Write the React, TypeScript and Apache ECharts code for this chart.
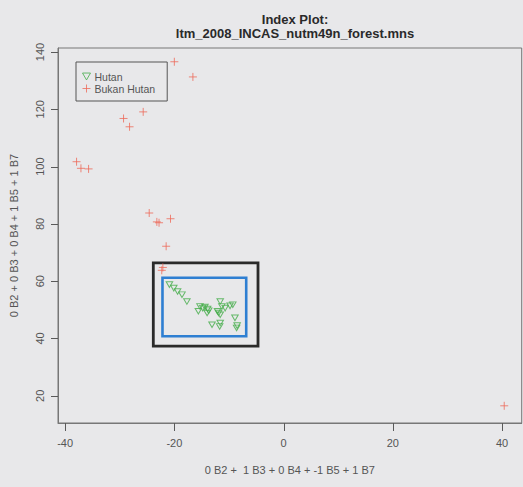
import React, { useEffect, useRef } from "react";
import * as echarts from "echarts";

// Hutan (forest) points
const hutanX = [-20.9, -20.1, -19.4, -18.6, -17.7, -15.3, -14.8, -14.4, -13.9, -15.6, -14.0, -13.7, -11.6, -11.3, -10.7, -9.8, -9.3, -12.1, -11.9, -11.6, -13.1, -11.7, -11.6, -8.9, -8.6, -8.5];
const hutanY = [58.8, 57.6, 56.4, 55.3, 52.9, 51.2, 50.6, 51.0, 50.3, 49.5, 48.9, 49.7, 52.9, 51.2, 50.6, 51.4, 51.8, 49.5, 48.9, 48.3, 44.8, 44.2, 45.4, 47.2, 43.7, 44.5];
// Bukan Hutan (non-forest) points
const bukanX = [-20.0, -16.6, -25.7, -29.3, -28.2, -37.9, -37.1, -35.7, -24.6, -23.2, -22.8, -20.7, -21.5, -22.3, -22.1, 40.4];
const bukanY = [136.6, 131.3, 119.1, 116.8, 113.9, 101.7, 99.4, 99.2, 83.8, 80.7, 80.4, 81.8, 72.2, 63.8, 64.8, 16.5];
const xTicks = [-40, -20, 0, 20, 40];
const yTicks = [20, 40, 60, 80, 100, 120, 140];
// axis ranges
const xRange = [-41.3, 43.6];
const yRange = [10.5, 141.4];
// annotation boxes in data coordinates [x1, y1, x2, y2]
const blackBox = [-23.85, 66.4, -4.68, 37.3];
const blueBox = [-22.17, 61.2, -6.84, 40.8];

const seriesNames = ["Hutan", "Bukan Hutan"];
const titleLines = ["Index Plot:", "ltm_2008_INCAS_nutm49n_forest.mns"];
const xName = "0 B2 +  1 B3 + 0 B4 + -1 B5 + 1 B7";
const yName = "0 B2 + 0 B3 + 0 B4 + 1 B5 + 1 B7";

const RED = "#ee6a5a";
const GREEN = "#45ad4a";
const TICK = "#5a5a5a";
const TRI = "path://M0,0 L10,0 L5,8.66 Z";
const PLUS = "path://M5,0 L5,10 M0,5 L10,5";

export default function App() {
  const ref = useRef<HTMLDivElement>(null);
  useEffect(() => {
    if (!ref.current) return;
    const chart = echarts.init(ref.current, null, { renderer: "svg" });
    const font = "Liberation Sans";
    chart.setOption({
      animation: false,
      backgroundColor: "#e8e8ea",
      textStyle: { fontFamily: font },
      title: {
        text: titleLines.join("\n"),
        left: 290,
        textAlign: "center",
        top: 7,
        textStyle: { fontFamily: font, fontSize: 13, fontWeight: "bold", color: "#2a2a2a", lineHeight: 14 },
      },
      legend: {
        left: 76,
        top: 62,
        orient: "vertical",
        padding: [9, 12, 7, 6],
        itemGap: 1,
        itemWidth: 8,
        itemHeight: 8,
        borderColor: "#555",
        borderWidth: 1,
        textStyle: { fontFamily: font, fontSize: 10.5, color: "#555", padding: [0, 0, 0, -1] },
        data: [
          { name: seriesNames[0], icon: TRI, itemStyle: { color: "transparent", borderColor: GREEN, borderWidth: 1 } },
          { name: seriesNames[1], icon: PLUS, itemStyle: { color: "transparent", borderColor: RED, borderWidth: 1 } },
        ],
      },
      grid: { left: 58, right: 1.3, top: 48, bottom: 64, show: true, borderColor: "#777", borderWidth: 1 },
      xAxis: {
        type: "value",
        min: xRange[0],
        max: xRange[1],
        name: xName,
        nameLocation: "middle",
        nameGap: 41,
        nameTextStyle: { fontFamily: font, fontSize: 11, color: "#555" },
        splitLine: { show: false },
        axisLine: { show: true, onZero: false, lineStyle: { color: "#777" } },
        axisTick: { show: false },
        axisLabel: { customValues: xTicks, fontFamily: font, fontSize: 11, color: "#555", margin: 14 },
      },
      yAxis: {
        type: "value",
        min: yRange[0],
        max: yRange[1],
        name: yName,
        nameLocation: "middle",
        nameGap: 39,
        nameTextStyle: { fontFamily: font, fontSize: 11, color: "#555" },
        splitLine: { show: false },
        axisLine: { show: true, onZero: false, lineStyle: { color: "#777" } },
        axisTick: { show: false },
        axisLabel: { customValues: yTicks, rotate: 90, fontFamily: font, fontSize: 11, color: "#555", margin: 13 },
      },
      series: [
        {
          name: seriesNames[0],
          type: "scatter",
          symbol: TRI,
          symbolSize: [6.5, 5.6],
          itemStyle: { color: "transparent", borderColor: GREEN, borderWidth: 1 },
          data: hutanX.map((x, i) => [x, hutanY[i]]),
          markArea: {
            silent: true,
            data: [
              [
                { coord: [blackBox[0], blackBox[1]], itemStyle: { color: "transparent", borderColor: "#2a2a2a", borderWidth: 2.8 } },
                { coord: [blackBox[2], blackBox[3]] },
              ],
              [
                { coord: [blueBox[0], blueBox[1]], itemStyle: { color: "transparent", borderColor: "#2e7fd2", borderWidth: 2.6 } },
                { coord: [blueBox[2], blueBox[3]] },
              ],
            ],
          },
        },
        {
          name: seriesNames[1],
          type: "scatter",
          symbol: PLUS,
          symbolSize: 8,
          itemStyle: { color: "transparent", borderColor: RED, borderWidth: 1 },
          data: bukanX.map((x, i) => [x, bukanY[i]]),
        },
      ],
    });

    // Tick marks placed through the chart's own scales
    const snap = (v: number) => Math.round(v) + 0.5;
    const tickEls: any[] = [];
    xTicks.forEach((v) => {
      const p = chart.convertToPixel({ gridIndex: 0 }, [v, yRange[0]]) as number[];
      if (!p) return;
      const x = snap(p[0]);
      tickEls.push({
        type: "line",
        silent: true,
        z: 100,
        shape: { x1: x, y1: p[1], x2: x, y2: p[1] + 8 },
        style: { stroke: TICK, lineWidth: 1 },
      });
    });
    yTicks.forEach((v) => {
      const p = chart.convertToPixel({ gridIndex: 0 }, [xRange[0], v]) as number[];
      if (!p) return;
      const y = snap(p[1]);
      tickEls.push({
        type: "line",
        silent: true,
        z: 100,
        shape: { x1: p[0] - 7, y1: y, x2: p[0], y2: y },
        style: { stroke: TICK, lineWidth: 1 },
      });
    });
    chart.setOption({ graphic: { elements: tickEls } });

    return () => chart.dispose();
  }, []);
  return <div ref={ref} style={{ position: "fixed", left: 0, top: 0, width: 523, height: 487 }} />;
}
